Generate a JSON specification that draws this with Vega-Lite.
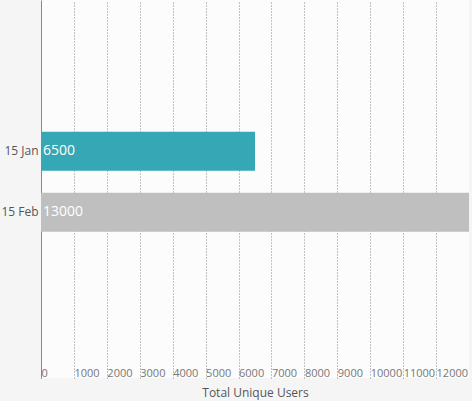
{
  "$schema": "https://vega.github.io/schema/vega-lite/v6.json",
  "autosize": "none",
  "width": 428,
  "height": 378,
  "padding": {"left": 41, "top": 0, "right": 3, "bottom": 23},
  "background": "#f5f5f5",
  "config": {
    "view": {"stroke": null, "fill": "#fcfcfc"},
    "font": "Open Sans"
  },
  "data": {
    "values": [
      {"month": "15 Jan", "users": 6500},
      {"month": "15 Feb", "users": 13000}
    ]
  },
  "encoding": {
    "y": {
      "field": "month",
      "type": "nominal",
      "sort": null,
      "scale": {
        "domain": ["", " ", "15 Jan", "15 Feb", "  ", "   "],
        "paddingInner": 0.36,
        "paddingOuter": 0.28,
        "align": 0.29
      },
      "axis": {
        "title": null,
        "ticks": false,
        "labelPadding": 3,
        "labelFontSize": 12,
        "labelColor": "#555555",
        "domainColor": "#888888",
        "domainWidth": 1
      }
    },
    "x": {
      "field": "users",
      "type": "quantitative",
      "scale": {"domain": [0, 13000], "nice": false},
      "axis": {
        "title": "Total Unique Users",
        "values": [0, 1000, 2000, 3000, 4000, 5000, 6000, 7000, 8000, 9000, 10000, 11000, 12000],
        "format": "d",
        "ticks": false,
        "domain": false,
        "grid": true,
        "gridColor": "#888888",
        "gridDash": [1, 2],
        "gridWidth": 1,
        "labelAlign": "left",
        "labelBaseline": "alphabetic",
        "labelPadding": -2,
        "labelDx": 2,
        "labelFontSize": 11,
        "labelColor": "#777777",
        "labelFlush": false,
        "labelOverlap": false,
        "titleFontSize": 12,
        "titleFontWeight": "normal",
        "titleColor": "#555555",
        "titleY": 18,
        "titleBaseline": "alphabetic"
      }
    }
  },
  "layer": [
    {
      "mark": {"type": "bar"},
      "encoding": {
        "color": {
          "field": "month",
          "type": "nominal",
          "scale": {"domain": ["15 Jan", "15 Feb"], "range": ["#35a7b5", "#bfbfbf"]},
          "legend": null
        }
      }
    },
    {
      "mark": {"type": "text", "align": "left", "baseline": "middle", "dx": 2, "fontSize": 14, "color": "white"},
      "encoding": {
        "x": {"datum": 0},
        "text": {"field": "users", "type": "quantitative", "format": "d"}
      }
    }
  ]
}
